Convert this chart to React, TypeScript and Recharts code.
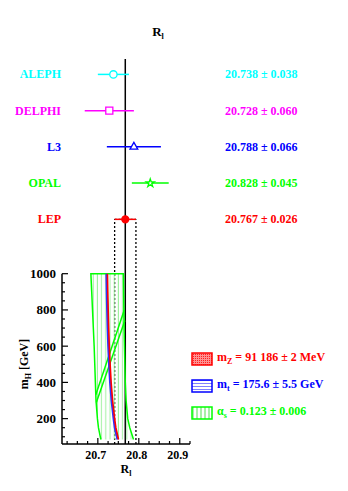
import {
  ComposedChart,
  Scatter,
  XAxis,
  YAxis,
  ReferenceLine,
  ErrorBar,
  Legend,
  Symbols,
} from 'recharts'

const SERIF = '"Liberation Serif", "Times New Roman", serif'

// upper panel: the four experiments and their average
const EXPERIMENTS = ['ALEPH', 'DELPHI', 'L3', 'OPAL', 'LEP']
const RL_VALUES = [20.738, 20.728, 20.788, 20.828, 20.767]
const RL_ERRORS = [0.038, 0.06, 0.066, 0.045, 0.026]
const ROW_POS = [2100, 1900, 1700, 1500, 1300]
const EXP_COLORS = ['#00ffff', '#ff00ff', '#0000ff', '#00ff00', '#ff0000']
const EXP_MARKS = ['circle', 'square', 'triangle', 'star', 'circle']
const EXP_SIZES = [42, 50, 26, 20, 38]
const EXP_FILLED = [false, false, false, false, true]

// lower panel: SM prediction vs m_H
const MH_GRID = [85, 100, 150, 200, 300, 400, 500, 600, 700, 800, 900, 1000]
const RED_RL = [20.7505, 20.749, 20.744, 20.741, 20.736, 20.7325, 20.73, 20.728, 20.7265, 20.7253, 20.7243, 20.7235]
const BLUE_RL = [20.748, 20.7465, 20.7415, 20.7385, 20.7335, 20.73, 20.7275, 20.7255, 20.724, 20.7228, 20.7218, 20.721]
const GREEN_LO = [20.7075, 20.706, 20.7015, 20.699, 20.6955, 20.694, 20.6925, 20.691, 20.689, 20.687, 20.685, 20.683]
const GREEN_HI = [20.787, 20.785, 20.778, 20.773, 20.769, 20.767, 20.766, 20.765, 20.764, 20.7635, 20.763, 20.7625]
const DIAG_A_MH = [800, 332]
const DIAG_A_RL = [20.7645, 20.695]
const DIAG_B_MH = [741, 289]
const DIAG_B_RL = [20.766, 20.6963]

// axes
const X_DOMAIN = [20.6125, 20.925]
const Y_DOMAIN = [60, 2185]
const X_TICKS = [20.625, 20.65, 20.675, 20.7, 20.725, 20.75, 20.775, 20.8, 20.825, 20.85, 20.875, 20.9, 20.925]
const X_LABELLED = [20.7, 20.8, 20.9]
const MH_TICKS = [100, 150, 200, 250, 300, 350, 400, 450, 500, 550, 600, 650, 700, 750, 800, 850, 900, 950, 1000]
const MH_LABELLED = [200, 400, 600, 800, 1000]

// legend
const LEGEND_NAMES = ['mZ', 'mt', 'alphas']
const LEGEND_COLORS = ['#ff0000', '#0000ff', '#00ff00']
const LEGEND_SYMBOL = ['m', 'm', 'α']
const LEGEND_SUB = ['Z', 't', 's']
const LEGEND_TEXT = [' = 91 186 ± 2 MeV', ' = 175.6 ± 5.5 GeV', ' = 0.123 ± 0.006']

const rows = EXPERIMENTS.map((name, i) => ({
  name,
  rl: RL_VALUES[i],
  err: RL_ERRORS[i],
  mh: ROW_POS[i],
}))

const curve = (rls: number[], mhs: number[] = MH_GRID) =>
  mhs.map((mh, i) => ({ rl: rls[i], mh }))

const greenBand = [...curve(GREEN_LO), ...curve(GREEN_HI).reverse()]

const lep = rows[rows.length - 1]
const mhTop = MH_TICKS[MH_TICKS.length - 1]

const noDot = () => <g />

function LeftTick(props: any) {
  const { x, y, payload } = props
  const v = payload.value
  const row = ROW_POS.indexOf(v)
  if (row >= 0) {
    return (
      <text x={x - 1} y={y + 4} textAnchor="end" fill={EXP_COLORS[row]}
        fontSize={12} fontWeight="bold" fontFamily={SERIF}>
        {EXPERIMENTS[row]}
      </text>
    )
  }
  const major = MH_LABELLED.includes(v)
  return (
    <g>
      <line x1={x} x2={x + (major ? 6 : 3)} y1={y} y2={y} stroke="#000" strokeWidth={1.2} />
      {major && (
        <text x={x - 6} y={y + 4.5} textAnchor="end" fill="#000"
          fontSize={13} fontWeight="bold" fontFamily={SERIF}>
          {v}
        </text>
      )}
    </g>
  )
}

function RightTick(props: any) {
  const { x, y, payload } = props
  const row = ROW_POS.indexOf(payload.value)
  if (row < 0) return <g />
  return (
    <text x={x} y={y + 4} textAnchor="start" fill={EXP_COLORS[row]}
      fontSize={12} fontWeight="bold" fontFamily={SERIF}>
      {`${RL_VALUES[row].toFixed(3)} ± ${RL_ERRORS[row].toFixed(3)}`}
    </text>
  )
}

function BottomTick(props: any) {
  const { x, y, payload } = props
  const major = X_LABELLED.includes(payload.value)
  return (
    <g>
      <line x1={x} x2={x} y1={y} y2={y - (major ? 6 : 3)} stroke="#000" strokeWidth={1.2} />
      {major && (
        <text x={x - 2} y={y + 15} textAnchor="middle" fill="#000"
          fontSize={12} fontWeight="bold" fontFamily={SERIF}>
          {payload.value.toFixed(1)}
        </text>
      )}
    </g>
  )
}

function XLabel(props: any) {
  const { x, y, width } = props.viewBox
  return (
    <text x={x + width / 2} y={y + 29} textAnchor="middle" fill="#000"
      fontSize={12} fontWeight="bold" fontFamily={SERIF}>
      R<tspan fontSize={8} dy={3}>l</tspan>
    </text>
  )
}

function LegendBox({ index }: { index: number }) {
  const c = LEGEND_COLORS[index]
  const id = `lg-${index}`
  return (
    <svg width={22} height={14} style={{ display: 'block', marginRight: 4 }}>
      <defs>
        {index === 0 && (
          <pattern id={id} patternUnits="userSpaceOnUse" width={2} height={2}>
            <rect width={2} height={2} fill="#ff9090" />
            <rect width={1} height={1} fill="#ff2020" />
          </pattern>
        )}
        {index === 1 && (
          <pattern id={id} patternUnits="userSpaceOnUse" width={22} height={3}>
            <rect width={22} height={3} fill="#fff" />
            <line x1={0} x2={22} y1={1.5} y2={1.5} stroke="#8080ff" strokeWidth={1} />
          </pattern>
        )}
        {index === 2 && (
          <pattern id={id} patternUnits="userSpaceOnUse" width={4} height={14}>
            <rect width={4} height={14} fill="#fff" />
            <line x1={2} x2={2} y1={0} y2={14} stroke="#50e050" strokeWidth={1} />
          </pattern>
        )}
      </defs>
      <rect x={1} y={1} width={20} height={12} fill={`url(#${id})`} stroke={c} strokeWidth={1.5} />
    </svg>
  )
}

function LegendContent() {
  return (
    <div style={{ fontFamily: SERIF, fontWeight: 'bold', fontSize: 12 }}>
      {LEGEND_NAMES.map((n, i) => (
        <div key={n} style={{ display: 'flex', alignItems: 'center', height: 27, color: LEGEND_COLORS[i], whiteSpace: 'nowrap' }}>
          <LegendBox index={i} />
          <span>
            {LEGEND_SYMBOL[i]}
            <sub style={{ fontSize: 8 }}>{LEGEND_SUB[i]}</sub>
            {LEGEND_TEXT[i]}
          </span>
        </div>
      ))}
    </div>
  )
}

export default function App() {
  return (
    <div style={{ position: 'absolute', left: 0, top: 0, width: 348, height: 491, background: '#fff' }}>
      <svg width={348} height={491} style={{ position: 'absolute', left: 0, top: 0 }}>
        <text x={158} y={36} textAnchor="middle" fill="#000" fontSize={13}
          fontWeight="bold" fontFamily={SERIF}>
          R<tspan fontSize={8} dy={3}>l</tspan>
        </text>
        <text transform="translate(28,364) rotate(-90)" textAnchor="middle" fill="#000"
          fontSize={12} fontWeight="bold" fontFamily={SERIF}>
          m<tspan fontSize={8} dy={3}>H</tspan>
          <tspan fontSize={12} dy={-3}> [GeV]</tspan>
        </text>
      </svg>
      <div style={{ position: 'absolute', left: 0, top: 0 }}>
        <ComposedChart width={348} height={491}
          margin={{ top: 59, right: 38, bottom: 22, left: 32 }}>
          <defs>
            <pattern id="vhatch" patternUnits="userSpaceOnUse" x={3} width={4.2} height={10}>
              <line x1={2} x2={2} y1={0} y2={10} stroke="#9cf09c" strokeWidth={1} />
            </pattern>
          </defs>
          <XAxis type="number" dataKey="rl" domain={X_DOMAIN} allowDataOverflow
            ticks={X_TICKS} interval={0} tickSize={0} tickMargin={0} tickLine={false}
            axisLine={{ stroke: '#000', strokeWidth: 1.5 }} height={25}
            tick={BottomTick} label={{ content: XLabel }} />
          <YAxis yAxisId="left" type="number" dataKey="mh" domain={Y_DOMAIN} allowDataOverflow
            ticks={[...MH_TICKS, ...ROW_POS]} interval={0} tickSize={0} tickMargin={0}
            tickLine={false} axisLine={false} width={30} tick={LeftTick} />
          <YAxis yAxisId="right" orientation="right" type="number" dataKey="mh"
            domain={Y_DOMAIN} allowDataOverflow ticks={ROW_POS} interval={0}
            tickSize={0} tickMargin={35} tickLine={false} axisLine={false}
            width={120} tick={RightTick} />

          <ReferenceLine yAxisId="left" ifOverflow="visible"
            segment={[{ x: X_DOMAIN[0], y: Y_DOMAIN[0] }, { x: X_DOMAIN[0], y: mhTop }]}
            stroke="#000" strokeWidth={1.5} />

          <Scatter yAxisId="left" name={LEGEND_NAMES[2]} data={greenBand} fill="#00ff00"
            shape={noDot} isAnimationActive={false}
            line={{ stroke: '#00ff00', strokeWidth: 1.5, fill: 'url(#vhatch)' }} />
          <Scatter yAxisId="left" legendType="none" data={curve(DIAG_A_RL, DIAG_A_MH)}
            fill="#00ff00" shape={noDot} isAnimationActive={false}
            line={{ stroke: '#00ff00', strokeWidth: 1.5 }} />
          <Scatter yAxisId="left" legendType="none" data={curve(DIAG_B_RL, DIAG_B_MH)}
            fill="#00ff00" shape={noDot} isAnimationActive={false}
            line={{ stroke: '#00ff00', strokeWidth: 1.5 }} />
          <Scatter yAxisId="left" name={LEGEND_NAMES[1]} data={curve(BLUE_RL)} fill="#0000ff"
            shape={noDot} isAnimationActive={false}
            line={{ stroke: '#3030ff', strokeWidth: 2.2 }} />
          <Scatter yAxisId="left" name={LEGEND_NAMES[0]} data={curve(RED_RL)} fill="#ff0000"
            shape={noDot} isAnimationActive={false}
            line={{ stroke: '#ff0000', strokeWidth: 1.6 }} />

          <ReferenceLine yAxisId="left" x={lep.rl} stroke="#000" strokeWidth={1.5} />
          {[lep.rl - lep.err, lep.rl + lep.err].map((xv) => (
            <ReferenceLine key={xv} yAxisId="left" ifOverflow="visible"
              segment={[{ x: xv, y: Y_DOMAIN[0] }, { x: xv, y: lep.mh }]}
              stroke="#000" strokeWidth={1.3} strokeDasharray="2 2" />
          ))}
          <ReferenceLine yAxisId="left" ifOverflow="visible"
            segment={[{ x: lep.rl - lep.err, y: lep.mh }, { x: lep.rl + lep.err, y: lep.mh }]}
            stroke="#000" strokeWidth={1.3} strokeDasharray="2 2" />

          {rows.map((r, i) => (
            <Scatter key={r.name} yAxisId="left" legendType="none" data={[r]}
              fill={EXP_COLORS[i]} isAnimationActive={false}
              shape={(p: any) => (
                <Symbols cx={p.cx} cy={p.cy} type={EXP_MARKS[i] as any} size={EXP_SIZES[i]}
                  fill={EXP_FILLED[i] ? EXP_COLORS[i] : '#fff'} stroke={EXP_COLORS[i]}
                  strokeWidth={1.3} />
              )}>
              <ErrorBar dataKey="err" direction="x" width={0} stroke={EXP_COLORS[i]}
                strokeWidth={1.5} isAnimationActive={false} />
            </Scatter>
          ))}

          <Legend layout="vertical" verticalAlign="middle" align="center"
            wrapperStyle={{ left: 191, top: 345, width: 155 }}
            content={LegendContent} />
        </ComposedChart>
      </div>
    </div>
  )
}
